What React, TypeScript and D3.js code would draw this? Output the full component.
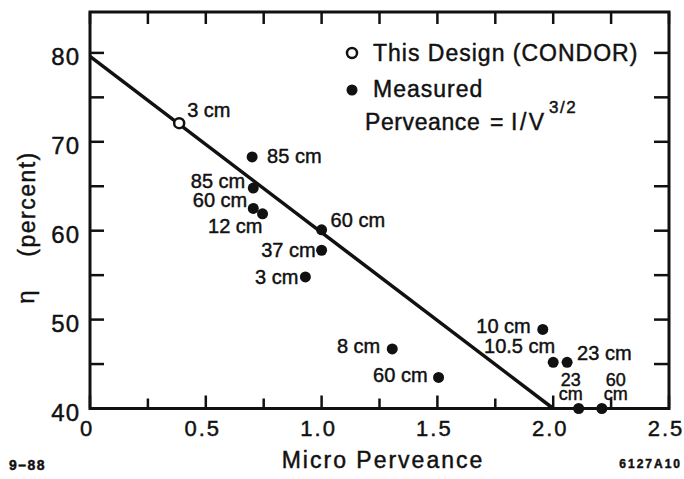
import React, { useEffect, useRef } from 'react';
import * as d3 from 'd3';

// measured points: micro perveance vs efficiency, labelled with cavity length
const perveance = [0.70, 0.705, 0.705, 0.745, 1.0, 1.0, 0.93, 1.305, 1.505, 1.955, 2.0, 2.06, 2.11, 2.21];
const efficiency = [68.3, 64.8, 62.5, 61.9, 60.1, 57.8, 54.8, 46.7, 43.5, 48.9, 45.2, 45.2, 40, 40];
const lengths = ['85 cm', '85 cm', '60 cm', '12 cm', '60 cm', '37 cm', '3 cm', '8 cm', '60 cm', '10 cm', '10.5 cm', '23 cm', '23\ncm', '60\ncm'];

// this design (CONDOR)
const designPerveance = [0.385];
const designEfficiency = [72.1];
const designLabels = ['3 cm'];

// straight-line fit
const fitPerveance = [0, 2.0];
const fitEfficiency = [79.6, 40];

const xTickValues = [0, 0.5, 1.0, 1.5, 2.0, 2.5];
const xTickLabels = ['0', '0.5', '1.0', '1.5', '2.0', '2.5'];
const yTickValues = [40, 50, 60, 70, 80];
const yTickLabels = ['40', '50', '60', '70', '80'];

// where each label sits next to its dot (pixels)
const labelPlace: [number, number, string][] = [
  [15, 6, 'start'], [-8, 0, 'end'], [-6, -1, 'end'], [0, 19, 'end'],
  [9, -3, 'start'], [-6, 7, 'end'], [-7, 7, 'end'], [-12, 4, 'end'],
  [-11, 5, 'end'], [-12, 4, 'end'], [2, -9, 'end'], [10, -2, 'start'],
  [-8, -23, 'middle'], [14, -23, 'middle'],
];
const designPlace: [number, number, string][] = [[8, -6, 'start']];

const FONT = '"Liberation Sans", Arial, Helvetica, sans-serif';
const INK = '#111';

export default function App() {
  const ref = useRef<SVGSVGElement>(null);

  useEffect(() => {
    const svg = d3.select(ref.current);
    svg.selectAll('*').remove();

    const x = d3.scaleLinear().domain([0, 2.5]).range([90, 669]);
    const y = d3.scaleLinear().domain([40, 84.6]).range([408.5, 12]);
    const [x0, x1] = x.range();
    const [y0, y1] = y.range();

    svg.append('rect').attr('width', 684).attr('height', 479).attr('fill', '#fff');

    // ticks, pointing inward on all four sides
    const xt = d3.range(0, 2.5001, 0.25);
    const yt = d3.range(40, 85, 5);
    const ticks = svg.append('g').attr('stroke', INK).attr('stroke-width', 2.5);
    xt.forEach((v, i) => {
      const len = i % 2 === 0 ? 13 : 10;
      ticks.append('line').attr('x1', x(v)).attr('x2', x(v)).attr('y1', y0).attr('y2', y0 - len);
      ticks.append('line').attr('x1', x(v)).attr('x2', x(v)).attr('y1', y1).attr('y2', y1 + 12);
    });
    yt.forEach((v) => {
      ticks.append('line').attr('x1', x0).attr('x2', x0 + 14).attr('y1', y(v)).attr('y2', y(v));
      ticks.append('line').attr('x1', x1).attr('x2', x1 - 15).attr('y1', y(v)).attr('y2', y(v));
    });

    // frame
    svg.append('rect')
      .attr('x', x0).attr('y', y1)
      .attr('width', x1 - x0).attr('height', y0 - y1)
      .attr('fill', 'none').attr('stroke', INK).attr('stroke-width', 3);

    // all text a touch heavier, like the printed original
    const txt = svg.append('g')
      .attr('font-family', FONT).attr('fill', INK)
      .attr('stroke', INK).attr('stroke-width', 0.45);

    // tick labels
    txt.append('g').selectAll('text').data(xTickValues).enter().append('text')
      .attr('x', (d) => x(d) - 3).attr('y', 436)
      .attr('text-anchor', 'middle')
      .attr('font-size', 22).attr('letter-spacing', 2)
      .text((d, i) => xTickLabels[i]);
    txt.append('g').selectAll('text').data(yTickValues).enter().append('text')
      .attr('x', 80).attr('y', (d) => y(d) + 12)
      .attr('text-anchor', 'end')
      .attr('font-size', 24).attr('letter-spacing', 1)
      .text((d, i) => yTickLabels[i]);

    // axis titles
    txt.append('text')
      .attr('x', 383).attr('y', 468).attr('text-anchor', 'middle')
      .attr('font-size', 23).attr('letter-spacing', 2)
      .text('Micro Perveance');
    txt.append('text')
      .attr('transform', 'translate(34,297) rotate(-90)').attr('text-anchor', 'middle')
      .attr('font-size', 24)
      .text('η');
    txt.append('text')
      .attr('transform', 'translate(35,204) rotate(-90)').attr('text-anchor', 'middle')
      .attr('font-size', 23).attr('letter-spacing', 1.5)
      .text('(percent)');

    // fit line
    const line = d3.line<number>().x((d) => x(d)).y((d, i) => y(fitEfficiency[i]));
    svg.append('path')
      .datum(fitPerveance)
      .attr('d', line)
      .attr('fill', 'none').attr('stroke', INK).attr('stroke-width', 3.5);

    // measured points
    svg.append('g').selectAll('circle').data(perveance).enter().append('circle')
      .attr('cx', (d) => x(d)).attr('cy', (d, i) => y(efficiency[i]))
      .attr('r', 5.5).attr('fill', INK);

    // design point
    svg.append('g').selectAll('circle').data(designPerveance).enter().append('circle')
      .attr('cx', (d) => x(d)).attr('cy', (d, i) => y(designEfficiency[i]))
      .attr('r', 5).attr('fill', '#fff').attr('stroke', INK).attr('stroke-width', 2.5);

    // point labels
    const addLabel = (px: number, py: number, s: string, place: [number, number, string]) => {
      const lines = s.split('\n');
      const t = txt.append('text')
        .attr('text-anchor', place[2])
        .attr('font-size', lines.length > 1 ? 18 : 20);
      lines.forEach((part, k) => {
        t.append('tspan').attr('x', px + place[0]).attr('y', py + place[1] + k * 14.5).text(part);
      });
    };
    perveance.forEach((d, i) => addLabel(x(d), y(efficiency[i]), lengths[i], labelPlace[i]));
    designPerveance.forEach((d, i) => addLabel(x(d), y(designEfficiency[i]), designLabels[i], designPlace[i]));

    // legend
    svg.append('circle').attr('cx', 352).attr('cy', 53).attr('r', 5)
      .attr('fill', '#fff').attr('stroke', INK).attr('stroke-width', 2.5);
    svg.append('circle').attr('cx', 352).attr('cy', 90).attr('r', 5.5).attr('fill', INK);
    txt.append('text').attr('x', 373).attr('y', 61).attr('font-size', 23).attr('letter-spacing', 1)
      .text('This Design (CONDOR)');
    txt.append('text').attr('x', 373).attr('y', 97).attr('font-size', 23).attr('letter-spacing', 1)
      .text('Measured');
    const pv = txt.append('text').attr('y', 130).attr('font-size', 23);
    pv.append('tspan').attr('x', 365).attr('letter-spacing', 0.6).text('Perveance');
    pv.append('tspan').attr('x', 490).text('=');
    pv.append('tspan').attr('x', 511).attr('letter-spacing', 2.5).text('I/V');
    pv.append('tspan').attr('x', 549).attr('dy', -17).attr('font-size', 17).attr('letter-spacing', 1.5).text('3/2');

    // corner marks
    txt.append('text').attr('x', 9).attr('y', 470)
      .attr('font-size', 14).attr('font-weight', 'bold')
      .attr('letter-spacing', 1.5).text('9–88');
    txt.append('text').attr('x', 682).attr('y', 468).attr('text-anchor', 'end')
      .attr('font-size', 12).attr('font-weight', 'bold')
      .attr('letter-spacing', 2).text('6127A10');
  }, []);

  return (
    <svg ref={ref} width={684} height={479}
      style={{ position: 'absolute', left: 0, top: 0, display: 'block' }} />
  );
}
